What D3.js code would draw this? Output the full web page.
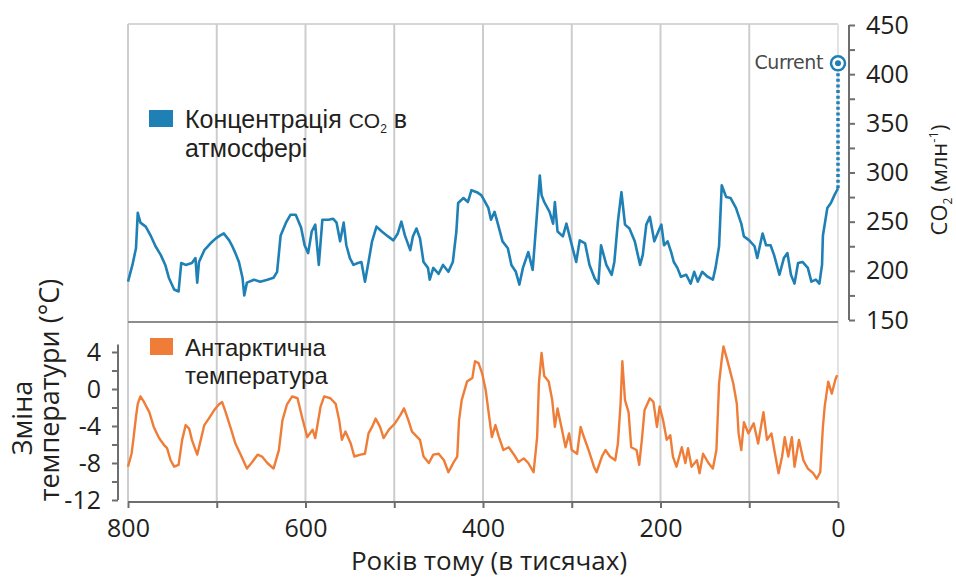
<!DOCTYPE html>
<html>
<head>
<meta charset="utf-8">
<script src="https://cdn.jsdelivr.net/npm/d3@7"></script>
<style>
  body { margin: 0; background: #fff; }
  text { font-family: "Open Sans", "Noto Sans", sans-serif; fill: #231f20; }
  text.legend { font-family: "Liberation Sans", Arial, sans-serif; }
</style>
</head>
<body>
<svg id="chart" width="956" height="577"></svg>
<script>
// CO2 (ppm) vs thousand years ago
var co2Series = [[800,189],[795,206],[791,223],[789,259],[786,249],[780,245],[774,235],[769,225],[763,216],[758,206],
  [754,193],[748,181],[743,179],[740,208],[735,206],[728,208],[724,213],[722,188],[720,209],[714,221],
  [707,228],[701,233],[696,236],[692,238],[686,231],[683,226],[679,218],[675,209],[671,193],[669,175],
  [666,188],[658,191],[651,189],[643,191],[636,193],[632,199],[628,236],[622,249],[617,257],[611,257],
  [605,244],[601,226],[597,218],[593,240],[589,247],[587,226],[585,206],[581,252],[574,252],[569,253],
  [565,249],[561,230],[557,249],[554,226],[550,213],[546,206],[541,208],[537,209],[533,189],[529,209],
  [525,230],[520,245],[514,240],[507,235],[501,231],[496,238],[492,250],[488,236],[482,221],[479,235],
  [475,243],[471,233],[467,209],[462,203],[460,191],[456,203],[450,197],[445,206],[439,199],[434,209],
  [430,240],[428,269],[422,274],[417,270],[413,282],[407,280],[402,277],[400,274],[394,264],[391,252],
  [387,260],[383,247],[378,230],[372,223],[368,206],[363,199],[359,186],[355,203],[349,219],[344,201],
  [340,248],[336,297],[334,277],[331,270],[325,260],[321,248],[319,270],[316,240],[310,235],[306,248],
  [301,230],[295,209],[291,231],[285,228],[280,206],[274,192],[270,187],[267,226],[261,206],[255,196],
  [252,209],[248,250],[244,280],[240,247],[235,243],[229,230],[223,206],[220,216],[216,247],[212,255],
  [207,230],[201,243],[199,247],[196,226],[192,230],[188,219],[185,209],[181,203],[177,194],[171,196],
  [166,187],[162,199],[158,189],[153,199],[147,194],[141,191],[138,203],[134,225],[131,287],[126,275],
  [121,274],[115,264],[109,248],[106,235],[100,231],[94,225],[91,213],[85,238],[81,226],[76,226],
  [72,216],[66,196],[61,213],[57,218],[53,196],[49,187],[45,208],[40,209],[34,203],[30,189],
  [25,191],[21,187],[18,206],[17,236],[12,264],[8,269],[4,277],[0,284]];
var co2Current = 411;

// Antarctic temperature change (°C)
var tempSeries = [[800,-8.4],[796,-7.0],[794,-5.5],[791,-3.0],[789,-1.6],[786,-0.8],[782,-1.4],[776,-2.5],[771,-4.1],[765,-5.3],
  [759,-6.1],[756,-6.4],[752,-7.7],[748,-8.4],[743,-8.2],[739,-5.5],[735,-3.9],[731,-4.3],[728,-5.5],[722,-7.1],
  [718,-5.5],[714,-3.9],[709,-3.2],[703,-2.3],[698,-1.7],[694,-1.4],[690,-2.5],[684,-4.3],[679,-5.9],[673,-7.1],
  [666,-8.6],[660,-7.9],[654,-7.1],[649,-7.3],[643,-8.0],[636,-8.6],[630,-6.6],[626,-3.4],[621,-1.7],[615,-0.8],
  [609,-1.0],[604,-3.0],[598,-5.2],[592,-4.4],[589,-5.3],[583,-1.9],[579,-0.8],[572,-1.0],[566,-1.6],[562,-3.4],
  [559,-5.5],[555,-4.6],[549,-5.9],[545,-7.3],[538,-7.1],[533,-7.0],[529,-4.8],[525,-4.1],[521,-3.2],[516,-4.1],
  [512,-5.3],[506,-4.4],[499,-3.7],[493,-2.8],[489,-2.1],[484,-3.4],[480,-4.6],[474,-5.2],[471,-5.5],[467,-7.3],
  [461,-8.0],[456,-7.1],[450,-7.0],[444,-7.7],[439,-9.0],[433,-7.9],[429,-7.3],[427,-3.4],[424,-1.2],[418,0.8],
  [412,1.2],[409,3.0],[405,2.8],[401,1.7],[397,-0.1],[394,-2.3],[390,-5.2],[386,-3.9],[382,-5.2],[377,-6.6],
  [371,-6.3],[365,-7.1],[360,-7.9],[354,-7.5],[349,-8.0],[343,-9.0],[339,-5.2],[337,0.6],[334,3.9],[331,1.4],
  [326,0.8],[322,-1.2],[319,-4.1],[316,-2.1],[311,-4.4],[307,-6.3],[303,-4.8],[300,-6.6],[294,-7.0],[290,-4.1],
  [287,-5.0],[281,-6.6],[275,-8.4],[272,-9.0],[266,-7.3],[262,-6.6],[257,-7.3],[251,-7.7],[248,-5.9],[245,-1.6],
  [243,3.0],[240,-1.2],[236,-2.5],[233,-6.3],[227,-6.6],[224,-8.2],[221,-5.5],[218,-2.3],[212,-1.0],[208,-1.4],
  [204,-4.1],[201,-1.9],[197,-3.4],[193,-5.5],[189,-5.0],[186,-7.3],[182,-8.4],[176,-6.3],[172,-8.0],[169,-6.4],
  [165,-8.4],[159,-7.7],[156,-9.1],[152,-7.0],[146,-8.0],[141,-8.6],[137,-6.6],[134,0.6],[131,3.2],[129,4.6],
  [125,3.2],[122,2.1],[118,0.6],[114,-1.6],[112,-4.8],[109,-6.6],[106,-3.6],[101,-4.8],[95,-3.7],[90,-5.9],
  [84,-2.5],[80,-5.5],[75,-4.8],[71,-7.0],[67,-9.1],[63,-7.3],[60,-5.2],[56,-7.3],[52,-5.2],[49,-8.4],
  [44,-5.5],[39,-7.7],[34,-8.6],[28,-9.1],[24,-9.7],[20,-9.0],[17,-4.1],[15,-1.9],[11,0.8],[7,-0.5],
  [3,1.0],[1,1.5]];

var xTicks = [800, 700, 600, 500, 400, 300, 200, 100, 0];
var xLabels = [800, 600, 400, 200, 0];
var co2Ticks = d3.range(150, 451, 25);
var tempTicks = d3.range(-12, 5, 2);

var blue = "#1f80b6", orange = "#ef7d38";

var svg = d3.select("#chart");

var x = d3.scaleLinear().domain([800, 0]).range([128, 838]);
var yCO2 = d3.scaleLinear().domain([150, 450]).range([320, 25]);
var yT = d3.scaleLinear().domain([-12, 4]).range([500, 352]);

// panel frame + grid
svg.append("line").attr("x1", x(800)).attr("x2", x(0)).attr("y1", 24).attr("y2", 24)
  .attr("stroke", "#d6d6d6").attr("stroke-width", 2);
svg.selectAll("line.grid").data(xTicks).enter().append("line")
  .attr("class", "grid")
  .attr("x1", function (d) { return x(d); }).attr("x2", function (d) { return x(d); })
  .attr("y1", 24).attr("y2", 502)
  .attr("stroke", function (d) { return d == 0 ? "#e2e2e2" : "#cdcdcd"; })
  .attr("stroke-width", 2);
svg.append("line").attr("x1", x(800)).attr("x2", x(0)).attr("y1", 322).attr("y2", 322)
  .attr("stroke", "#8c8c8c").attr("stroke-width", 2);

// series
var lineCO2 = d3.line().x(function (d) { return x(d[0]); }).y(function (d) { return yCO2(d[1]); });
var lineT = d3.line().x(function (d) { return x(d[0]); }).y(function (d) { return yT(d[1]); });

svg.append("path").datum(co2Series).attr("d", lineCO2)
  .attr("fill", "none").attr("stroke", blue).attr("stroke-width", 2.6).attr("stroke-linejoin", "round");
svg.append("path").datum(tempSeries).attr("d", lineT)
  .attr("fill", "none").attr("stroke", orange).attr("stroke-width", 2.4).attr("stroke-linejoin", "round");

// current CO2 marker
svg.append("line")
  .attr("x1", x(0)).attr("x2", x(0))
  .attr("y1", yCO2(co2Series[co2Series.length - 1][1])).attr("y2", yCO2(co2Current) + 8)
  .attr("stroke", blue).attr("stroke-width", 3.5).attr("stroke-dasharray", "3,2.6");
svg.append("circle").attr("cx", x(0)).attr("cy", yCO2(co2Current)).attr("r", 7)
  .attr("fill", "#fff").attr("stroke", blue).attr("stroke-width", 2.5);
svg.append("circle").attr("cx", x(0)).attr("cy", yCO2(co2Current)).attr("r", 3).attr("fill", blue);
svg.append("text").attr("x", x(0) - 15).attr("y", yCO2(co2Current) + 6)
  .attr("text-anchor", "end").style("font-size", "19px").style("fill", "#4a4a4a")
  .style("font-family", "'DejaVu Sans', sans-serif").style("letter-spacing", "-0.4px")
  .text("Current");

// axes
var axisCO2 = d3.axisRight(yCO2).tickValues(co2Ticks).tickSize(6).tickPadding(11)
  .tickFormat(function (d) { return d % 50 == 0 ? d : ""; });
var gR = svg.append("g").attr("transform", "translate(849,0)").call(axisCO2);

var axisT = d3.axisLeft(yT).tickValues(tempTicks).tickSize(6).tickPadding(11)
  .tickFormat(function (d) { return d % 4 == 0 ? d : ""; });
var gL = svg.append("g").attr("transform", "translate(118,0)").call(axisT);

var axisX = d3.axisBottom(x).tickValues(xTicks).tickSize(6).tickPadding(11)
  .tickFormat(function (d) { return xLabels.indexOf(d) >= 0 ? d : ""; });
var gB = svg.append("g").attr("transform", "translate(0,502)").call(axisX);

[gR, gL, gB].forEach(function (g) {
  g.select(".domain").attr("stroke", "#6e6e6e").attr("stroke-width", 2);
  g.selectAll(".tick line").attr("stroke", "#6e6e6e").attr("stroke-width", 2);
  g.selectAll(".tick text").style("font-size", "25px").style("font-family", "'Open Sans', sans-serif")
    .attr("fill", "#231f20");
});
gR.select(".domain").attr("d", "M0," + yCO2(150) + "V" + yCO2(450));
gL.select(".domain").attr("d", "M0," + yT(-12) + "V" + yT(4.8));
gB.select(".domain").attr("d", "M" + x(800) + ",0H" + x(0));
gL.selectAll(".tick text").text(function (d) { return d % 4 == 0 ? d3.format("")(d).replace("−", "-") : ""; });

// legends
svg.append("rect").attr("x", 149).attr("y", 110).attr("width", 24).attr("height", 17).attr("fill", blue);
var lt = svg.append("text").attr("class", "legend").attr("x", 185).attr("y", 128).style("font-size", "25px");
lt.append("tspan").text("Концентрація ");
lt.append("tspan").text("CO").style("font-size", "21px");
lt.append("tspan").text("2").style("font-size", "12px").attr("dy", 5);
lt.append("tspan").text(" в").attr("dy", -5);
svg.append("text").attr("class", "legend").attr("x", 185).attr("y", 157).style("font-size", "25px").text("атмосфері");

svg.append("rect").attr("x", 150).attr("y", 338).attr("width", 23).attr("height", 17).attr("fill", orange);
svg.append("text").attr("class", "legend").attr("x", 185).attr("y", 356).style("font-size", "24px").text("Антарктична");
svg.append("text").attr("class", "legend").attr("x", 185).attr("y", 384).style("font-size", "24px").text("температура");

// axis titles
svg.append("text").attr("x", 489).attr("y", 570).attr("text-anchor", "middle")
  .style("font-size", "26px").text("Років тому (в тисячах)");
svg.append("text").attr("transform", "translate(32,418) rotate(-90)").attr("text-anchor", "middle")
  .style("font-size", "27px").text("Зміна");
svg.append("text").attr("transform", "translate(59,390) rotate(-90)").attr("text-anchor", "middle")
  .style("font-size", "27px").text("температури (°C)");
var rt = svg.append("text").attr("transform", "translate(947,180) rotate(-90)").attr("text-anchor", "middle")
  .style("font-size", "22px");
rt.append("tspan").text("CO");
rt.append("tspan").text("2").style("font-size", "12px").attr("dy", 5);
rt.append("tspan").text(" (млн").attr("dy", -5);
rt.append("tspan").text("-1").style("font-size", "13px").attr("dy", -9);
rt.append("tspan").text(")").attr("dy", 9);
</script>
</body>
</html>
